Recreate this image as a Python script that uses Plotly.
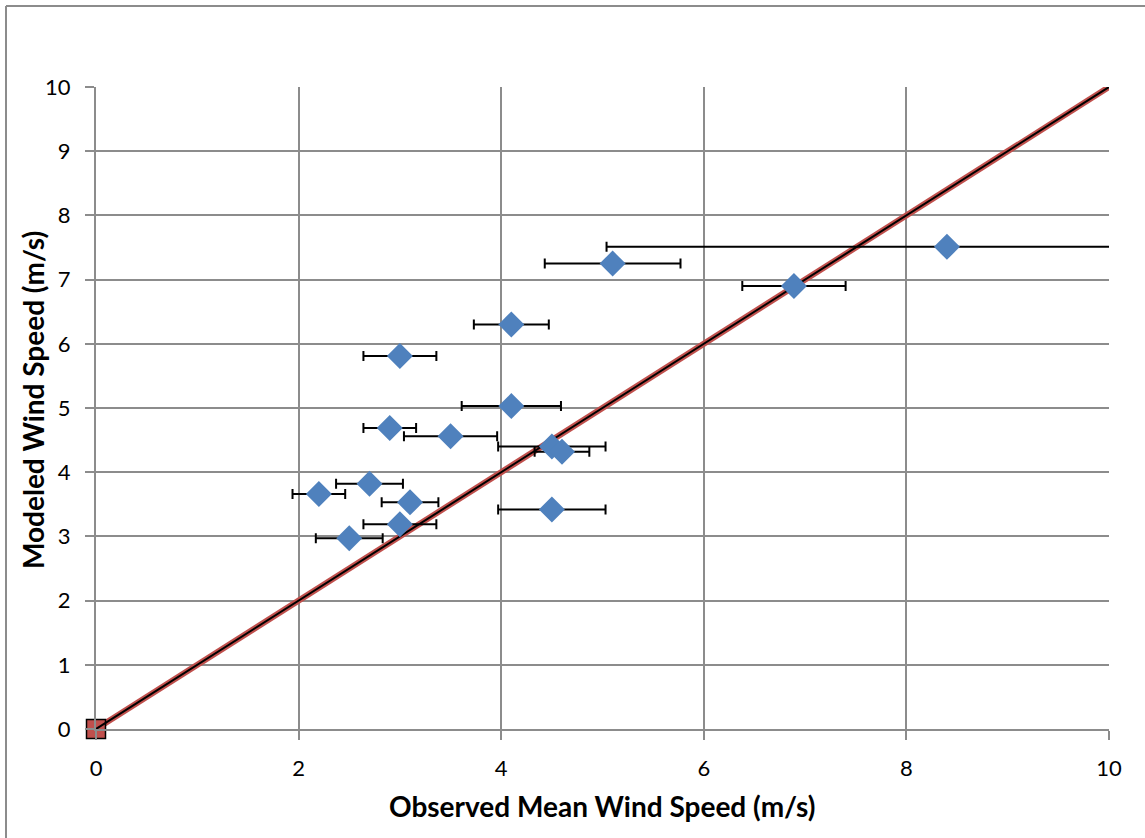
import plotly.graph_objects as go

# Observed mean wind speed (x), modeled wind speed (y), and x error (± std)
observed = [8.4, 5.1, 6.89, 4.1, 3.0, 4.1, 2.9, 3.5, 4.5, 4.6, 2.7, 2.2, 3.1, 4.5, 3.0, 2.5]
modeled = [7.51, 7.25, 6.9, 6.3, 5.81, 5.03, 4.69, 4.56, 4.4, 4.32, 3.82, 3.66, 3.53, 3.42, 3.19, 2.97]
obs_err = [3.36, 0.67, 0.51, 0.37, 0.36, 0.49, 0.26, 0.46, 0.53, 0.27, 0.33, 0.26, 0.28, 0.53, 0.36, 0.33]

# 1:1 reference line
line_x = [0, 10]
line_y = [0, 10]

tick_vals_x = [0, 2, 4, 6, 8, 10]
tick_vals_y = list(range(0, 11))

x_title = "Observed Mean Wind Speed (m/s)"
y_title = "Modeled Wind Speed (m/s)"

FONT = "Lato"
GRID = "#8c8c8c"

fig = go.Figure()

# 1:1 line, red outer
fig.add_trace(go.Scatter(
    x=line_x, y=line_y, mode="lines",
    line=dict(color="#C0504D", width=6), hoverinfo="skip", showlegend=False))
# origin square marker
fig.add_trace(go.Scatter(
    x=line_x[:1], y=line_y[:1], mode="markers",
    marker=dict(symbol="square", size=19, color="#C0504D",
                line=dict(color="#000000", width=1.5)),
    cliponaxis=False, showlegend=False))
# black inner
fig.add_trace(go.Scatter(
    x=line_x, y=line_y, mode="lines",
    line=dict(color="#000000", width=2), hoverinfo="skip", showlegend=False))

# Data points with horizontal error bars
fig.add_trace(go.Scatter(
    x=observed, y=modeled, mode="markers",
    marker=dict(symbol="diamond", size=20, color="#4F81BD",
                line=dict(width=0)),
    error_x=dict(type="data", array=obs_err, visible=True,
                 color="#000000", thickness=2, width=5),
    showlegend=False))

axis_common = dict(
    showgrid=True, gridcolor=GRID, gridwidth=2,
    showline=True, linecolor=GRID, linewidth=2,
    ticks="outside", ticklen=9, tickcolor=GRID, tickwidth=2,
    zeroline=False, mirror=False,
    tickfont=dict(family=FONT, size=22, color="#000000"),
)

fig.update_xaxes(range=[0, 10], tickvals=tick_vals_x, ticklabelstandoff=10, **axis_common)
fig.update_yaxes(range=[0, 10], tickvals=tick_vals_y, ticklabelstandoff=10, **axis_common)

L, R, T, B = 96, 1109, 87, 729
W, H = R - L, B - T
def px(x):
    return (x - L) / W
def py(y):
    return (B - y) / H

# axis titles
fig.add_annotation(text="<b>" + x_title + "</b>", xref="paper", yref="paper",
                   x=px(602), y=py(806), showarrow=False,
                   xanchor="center", yanchor="middle",
                   font=dict(family=FONT, size=28, color="#000000"))
fig.add_annotation(text="<b>" + y_title + "</b>", xref="paper", yref="paper",
                   x=px(33), y=py(400), showarrow=False, textangle=-90,
                   xanchor="center", yanchor="middle",
                   font=dict(family=FONT, size=28, color="#000000"))

# outer chart border (left and top edges visible)
fig.add_shape(type="line", xref="paper", yref="paper",
              x0=px(6), x1=px(6), y0=py(6), y1=py(845),
              line=dict(color="#8c8c8c", width=2), layer="below")
fig.add_shape(type="line", xref="paper", yref="paper",
              x0=px(6), x1=px(1150), y0=py(6), y1=py(6),
              line=dict(color="#8c8c8c", width=2), layer="below")

fig.update_layout(
    width=1145, height=838,
    margin=dict(l=L, r=1145 - R, t=T, b=838 - B, autoexpand=False),
    plot_bgcolor="white", paper_bgcolor="white",
    font=dict(family=FONT, color="#000000"),
)

fig.write_html("out.html", config={"displayModeBar": False},
               post_script="document.body.style.margin='0px';document.body.style.overflow='hidden';")
